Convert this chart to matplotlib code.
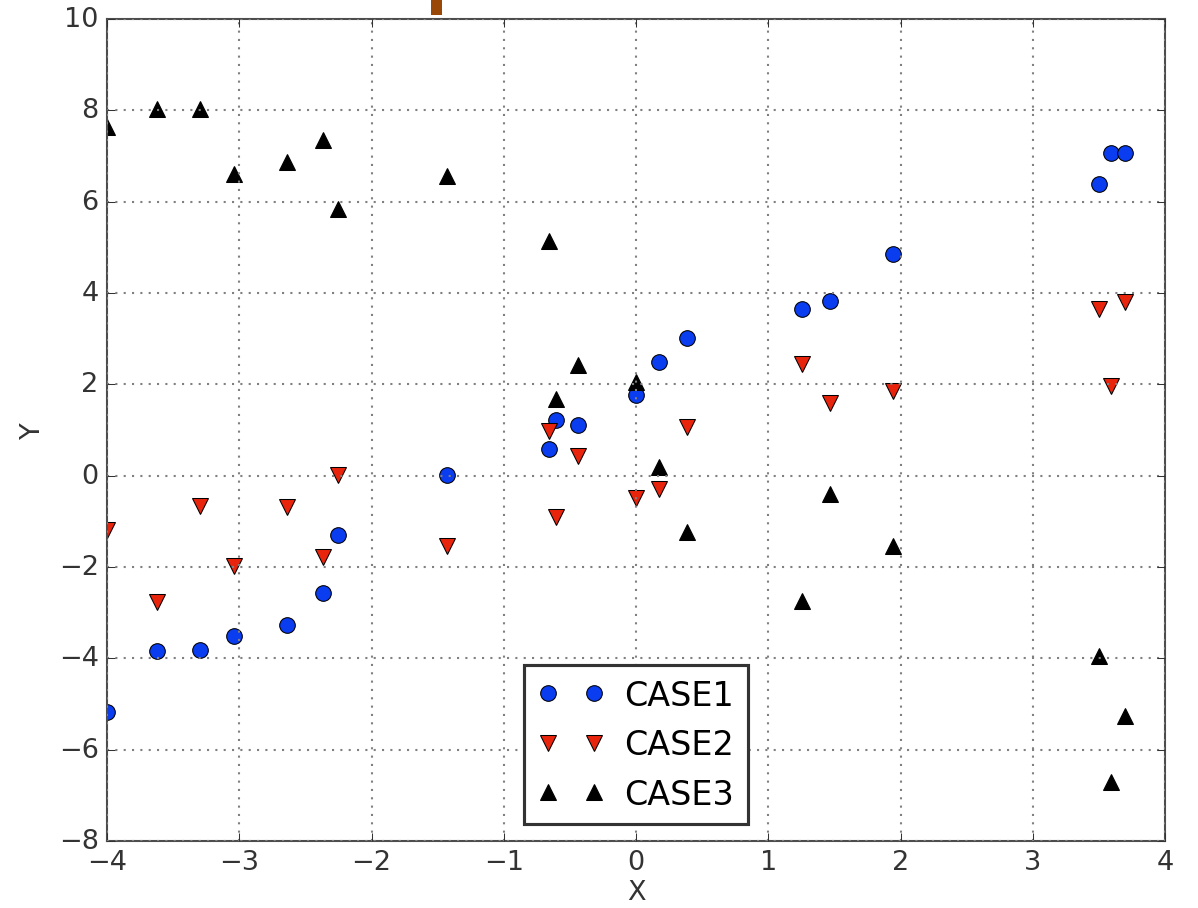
import numpy as np
import matplotlib
matplotlib.use("Agg")
import matplotlib.pyplot as plt
from matplotlib.patches import Rectangle

x = [-4.00, -3.62, -3.30, -3.04, -2.64, -2.37, -2.25, -1.43, -0.66, -0.605,
     -0.44, 0.00, 0.174, 0.386, 1.255, 1.467, 1.943, 3.50, 3.59, 3.70]
case1 = [-5.17, -3.84, -3.82, -3.51, -3.28, -2.57, -1.30, 0.02, 0.58, 1.22,
         1.11, 1.77, 2.49, 3.02, 3.65, 3.83, 4.85, 6.39, 7.07, 7.07]
case2 = [-1.19, -2.77, -0.66, -1.98, -0.69, -1.78, 0.02, -1.54, 0.98, -0.91,
         0.43, -0.49, -0.29, 1.07, 2.45, 1.59, 1.85, 3.65, 1.96, 3.80]
case3 = [7.64, 8.03, 8.03, 6.60, 6.87, 7.35, 5.84, 6.56, 5.14, 1.68,
         2.42, 2.05, 0.19, -1.23, -2.74, -0.40, -1.54, -3.95, -6.71, -5.26]

plt.style.use("classic")
plt.rcParams["figure.facecolor"] = "white"
plt.rcParams["savefig.facecolor"] = "white"

fig = plt.figure(figsize=(1198 / 150, 909 / 150), dpi=150)
ax = fig.add_axes([107 / 1198, 1 - 842 / 909, (1165 - 107) / 1198, (842 - 20) / 909])

ms = 7.5
ax.plot(x, case1, "o", color="#0a3cf0", ms=ms, label="CASE1")
ax.plot(x, case2, "v", color="#e8240c", ms=ms, label="CASE2")
ax.plot(x, case3, "^", color="k", ms=ms, label="CASE3")

ax.set_xlim(-4, 4)
ax.set_ylim(-8, 10)
ax.set_xticks(np.arange(-4, 5, 1))
ax.set_yticks(np.arange(-8, 11, 2))
ax.grid(True, color="0.5", linestyle=":", linewidth=1.0)
ax.tick_params(labelsize=13, colors="0.2")
ax.set_xlabel("X", fontsize=13, color="0.2", labelpad=2)
ax.set_ylabel("Y", fontsize=13, color="0.2", labelpad=6)
for s in ax.spines.values():
    s.set_color("0.3")

leg = ax.legend(loc="lower center", numpoints=2, fontsize=16, frameon=True,
                borderaxespad=0.5, handletextpad=0.6)
leg.get_frame().set_edgecolor("0.2")
leg.get_frame().set_linewidth(1.5)

# small brown strip above the top edge
fig.patches.append(Rectangle((431 / 1198, 1 - 16 / 909), 11 / 1198, 16 / 909,
                             transform=fig.transFigure, facecolor="#9a4808",
                             edgecolor="none"))

fig.savefig("out.png", dpi=150)
